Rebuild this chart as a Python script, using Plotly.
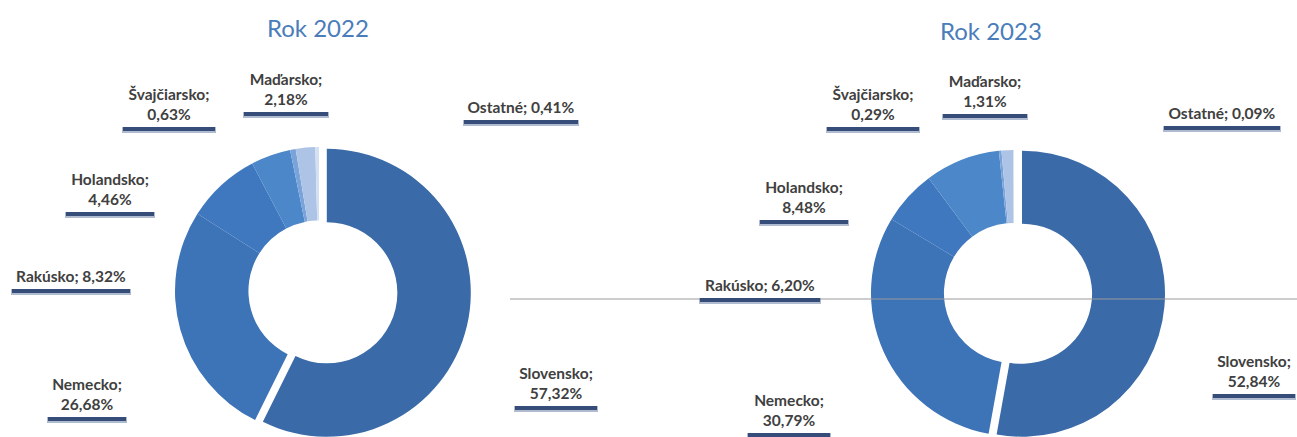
import plotly.graph_objects as go

W, H = 1297, 437

countries = ["Slovensko", "Nemecko", "Rakúsko", "Holandsko", "Švajčiarsko", "Maďarsko", "Ostatné"]
values_2022 = [57.32, 26.68, 8.32, 4.46, 0.63, 2.18, 0.41]
values_2023 = [52.84, 30.79, 6.20, 8.48, 0.29, 1.31, 0.09]
titles = ["Rok 2022", "Rok 2023"]

colors = ["#3a6aa8", "#3d73b7", "#3f78bf", "#4c87ca", "#7aa3da", "#aec4e6", "#d3e0f2"]

# label box: centre x, centre y, two lines?, box width (pixels)
label_pos_2022 = [(556, 383, True, 86), (87, 394, True, 82), (71, 276, False, 122), (110, 189, True, 92),
                  (169, 104, True, 96), (286, 89, True, 88), (521, 107, False, 118)]
label_pos_2023 = [(1254, 371, True, 86), (789, 410, True, 86), (760, 285, False, 124), (804, 197, True, 92),
                  (873, 104, True, 96), (985, 91, True, 88), (1222, 113, False, 120)]


def px(x):
    return min(max(x / W, 0), 1)


def py(y):
    return min(max(1 - y / H, 0), 1)


def fmt(v):
    return f"{v:.2f}".replace(".", ",") + "%"


fig = go.Figure()

charts = [
    dict(values=values_2022, cx=319, cy=291, r=144, shift=(7.8, 1.8), title=titles[0], tpos=(318, 27), labels=label_pos_2022),
    dict(values=values_2023, cx=1014, cy=293, r=143, shift=(8.0, 0.7), title=titles[1], tpos=(991, 30), labels=label_pos_2023),
]

for ch in charts:
    cx, cy, r = ch["cx"], ch["cy"], ch["r"]
    dom = dict(x=[px(cx - r), px(cx + r)], y=[py(cy + r), py(cy - r)])
    base_cols = ["rgba(0,0,0,0)"] + colors[1:]
    fig.add_trace(go.Pie(
        labels=countries, values=ch["values"], sort=False, direction="clockwise",
        rotation=0, hole=0.49, domain=dom, textinfo="none", showlegend=False,
        marker=dict(colors=base_cols, line=dict(width=0)), hoverinfo="label+percent",
    ))
    dx, dy = ch["shift"]
    dom2 = dict(x=[px(cx - r + dx), px(cx + r + dx)], y=[py(cy + r + dy), py(cy - r + dy)])
    pulled_cols = [colors[0]] + ["rgba(0,0,0,0)"] * (len(colors) - 1)
    fig.add_trace(go.Pie(
        labels=countries, values=ch["values"], sort=False, direction="clockwise",
        rotation=0, hole=0.49, domain=dom2, textinfo="none", showlegend=False,
        marker=dict(colors=pulled_cols, line=dict(width=0)), hoverinfo="skip",
    ))

annotations = []
shapes = [dict(type="line", xref="paper", yref="paper", x0=px(510), x1=1, y0=py(299), y1=py(299),
               line=dict(color="#9a9a9a", width=1), layer="above")]
FONT = "Lato, Open Sans, sans-serif"
for ch in charts:
    tx, ty = ch["tpos"]
    annotations.append(dict(
        text=ch["title"], x=px(tx), y=py(ty), xref="paper", yref="paper",
        showarrow=False, xanchor="center", yanchor="middle",
        font=dict(family=FONT, size=24, color="#4a7dba"),
    ))
    for name, v, (lx, ly, br, bw) in zip(countries, ch["values"], ch["labels"]):
        sep = ";<br>" if br else "; "
        txt = f"<b>{name}{sep}{fmt(v)}</b>"
        bh = 46 if br else 26
        bottom = ly + bh / 2
        shapes.append(dict(type="rect", xref="paper", yref="paper", layer="above",
                           x0=px(lx - bw / 2 + 1), x1=px(lx + bw / 2 - 1),
                           y0=py(bottom + 6), y1=py(bottom - 2),
                           fillcolor="rgba(80,105,150,0.45)", line=dict(width=0)))
        shapes.append(dict(type="rect", xref="paper", yref="paper", layer="above",
                           x0=px(lx - bw / 2 + 2), x1=px(lx + bw / 2 - 2),
                           y0=py(bottom + 4), y1=py(bottom),
                           fillcolor="rgba(40,65,110,0.9)", line=dict(width=0)))
        annotations.append(dict(
            text=txt, x=px(lx), y=py(ly), xref="paper", yref="paper", showarrow=False,
            xanchor="center", yanchor="middle", align="center", valign="middle",
            width=bw, height=bh, borderpad=0, borderwidth=0, bgcolor="white",
            font=dict(family=FONT, size=15.5, color="#404040"),
        ))

fig.update_layout(
    width=W, height=H,
    margin=dict(l=0, r=0, t=0, b=0),
    paper_bgcolor="white", plot_bgcolor="white",
    annotations=annotations,
    shapes=shapes,
)

fig.write_html(
    "out.html",
    config={"displayModeBar": False},
    post_script="document.body.style.margin='0px';document.body.style.overflow='hidden';",
)
